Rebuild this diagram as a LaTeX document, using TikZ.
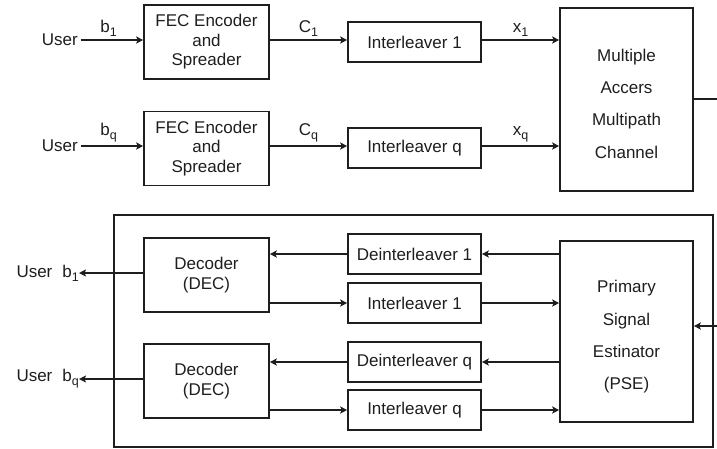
\documentclass[tikz,border=0pt]{standalone}
\usepackage{fontspec}
\setmainfont{Liberation Sans}
\usetikzlibrary{arrows.meta,calc}
\definecolor{ink}{RGB}{30,30,30}
\newcommand\lsub[1]{\raisebox{-0.45ex}{\fontsize{12.5}{12.5}\selectfont #1}}
\begin{document}
\begin{tikzpicture}[x=1pt,y=-1pt,
  every node/.style={font=\fontsize{17}{19.5}\selectfont, text=ink},
  blk/.style={draw=ink, line width=1.6pt, inner sep=0pt, align=center},
  enc/.style={blk, minimum width=125pt, minimum height=74pt},
  ilv/.style={blk, minimum width=133pt, minimum height=40pt},
  big/.style={blk, minimum width=133pt},
  bigtext/.style={inner sep=0pt, align=center, font=\fontsize{17}{32.3}\selectfont},
  conn/.style={draw=ink, line width=1.5pt, -{Stealth[length=7pt,width=7pt,inset=1.5pt]}},
  wire/.style={draw=ink, line width=1.5pt},
  lbl/.style={inner sep=0pt},
  sub/.style={inner sep=0pt, above=3pt}]
\useasboundingbox (0,0) rectangle (717,448);

% transmitter
\node[enc] (fec1) at (206.5,42) {FEC Encoder\\and\\Spreader};
\node[enc] (fecq) at (206.5,148.5) {FEC Encoder\\and\\Spreader};
\node[ilv] (il1) at (414.5,42) {Interleaver 1};
\node[ilv] (ilq) at (414.5,148) {Interleaver q};
\node[big, minimum height=183pt] (mac) at (626.5,99.5) {};
\node[bigtext] (mact) at (626.5,103.5) {Multiple\\Accers\\Multipath\\Channel};
\node[lbl, anchor=east] (u1) at (78,40) {User};
\node[lbl, anchor=east] (uq) at (78,146) {User};

\draw[conn, shorten <=2.5pt] (u1.east) -- node[sub, pos=0.47] {b\lsub{1}} (u1.east -| fec1.west);
\draw[conn, shorten <=2.5pt] (uq.east) -- node[sub, pos=0.47] {b\lsub{q}} (uq.east -| fecq.west);
\draw[conn] (fec1.east |- u1.east) -- node[sub] {C\lsub{1}} (u1.east -| il1.west);
\draw[conn] (fecq.east |- uq.east) -- node[sub] {C\lsub{q}} (uq.east -| ilq.west);
\draw[conn] (il1.east |- u1.east) -- node[sub] {x\lsub{1}} (u1.east -| mac.west);
\draw[conn] (ilq.east |- uq.east) -- node[sub] {x\lsub{q}} (uq.east -| mac.west);
\coordinate (mo) at (717,99);
\draw[wire] (mac.east |- mo) -- (mo);

% receiver
\node[blk, minimum width=599pt, minimum height=232pt] (rx) at (413.5,331) {};
\node[enc] (dec1) at (206.5,275) {Decoder\\(DEC)};
\node[enc] (decq) at (206.5,381) {Decoder\\(DEC)};
\node[ilv] (dil1) at (414.5,254) {Deinterleaver 1};
\node[ilv] (ilb1) at (414.5,303) {Interleaver 1};
\node[ilv] (dilq) at (414.5,362) {Deinterleaver q};
\node[ilv] (ilbq) at (414.5,410) {Interleaver q};
\node[big, minimum height=181pt] (pse) at (626.5,331.5) {};
\node[bigtext] (pset) at (626.5,337) {Primary\\Signal\\Estinator\\(PSE)};
\node[lbl, anchor=east] (ub1) at (79,273) {User\hspace{10pt}b\lsub{1}};
\node[lbl, anchor=east] (ubq) at (79,379) {User\hspace{10pt}b\lsub{q}};

\coordinate (pin) at (717,326);
\draw[conn] (pin) -- (pin -| pse.east);
\draw[conn] (dil1.east -| pse.west) -- (dil1.east);
\draw[conn] (dilq.east -| pse.west) -- (dilq.east);
\draw[conn] (ilb1.east) -- (ilb1.east -| pse.west);
\draw[conn] (ilbq.east) -- (ilbq.east -| pse.west);
\draw[conn] (dil1.west) -- (dil1.west -| dec1.east);
\draw[conn] (dilq.west) -- (dilq.west -| decq.east);
\draw[conn] (ilb1.west -| dec1.east) -- (ilb1.west);
\draw[conn] (ilbq.west -| decq.east) -- (ilbq.west);
\draw[conn] (dec1.west |- ub1.east) -- (ub1.east);
\draw[conn] (decq.west |- ubq.east) -- (ubq.east);
\end{tikzpicture}
\end{document}
